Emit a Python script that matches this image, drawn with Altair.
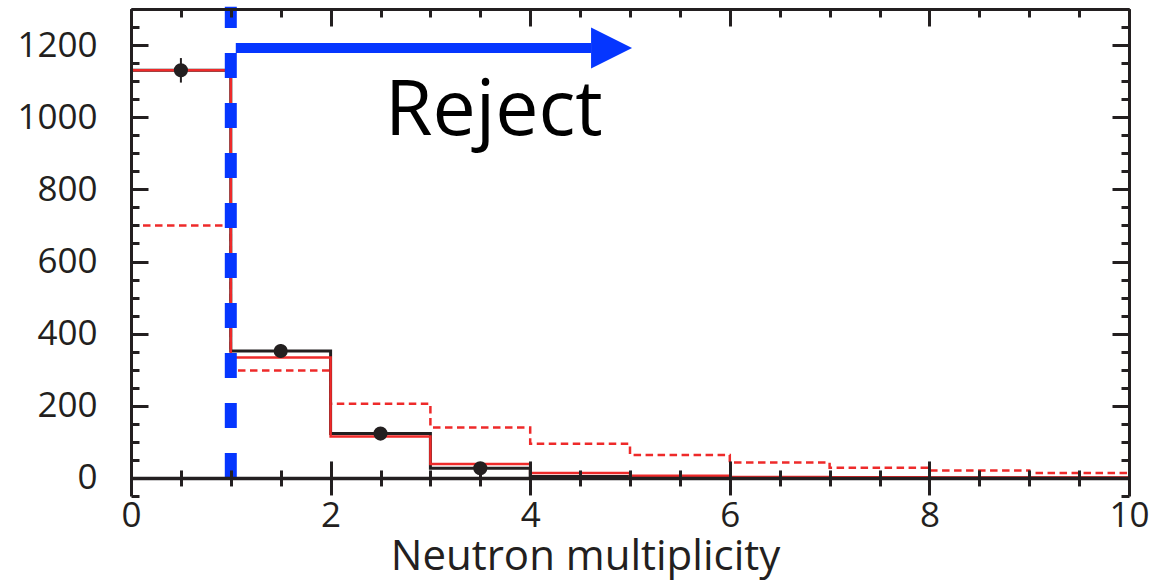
import altair as alt
import pandas as pd

# ---------------- values ----------------
bin_low = [0, 1, 2, 3, 4, 5, 6, 7, 8, 9]
bin_high = [1, 2, 3, 4, 5, 6, 7, 8, 9, 10]
data_counts = [1130, 352, 123, 27, 4, 3, 0, 0, 0, 0]
data_errors = [34, 19, 11, 5, 2, 2, 0, 0, 0, 0]
mc_solid = [1130, 334, 115, 39, 14, 6, 3, 2, 1.5, 1]
mc_dashed = [700, 298, 206, 140, 95, 64, 43, 28, 21, 14]
marker_bins = [0, 1, 2, 3]

cut_x = [1.0]
cut_y = [0, 1306]
arrow_x = [1.05, 4.61]
arrow_y = [1192]
head_x = [4.815]
note_text = ["Reject"]
note_x = [2.545]
note_y = [951]

x_major = [0, 2, 4, 6, 8, 10]
x_minor = [0, 0.5, 1, 1.5, 2, 2.5, 3, 3.5, 4, 4.5, 5, 5.5, 6, 6.5, 7, 7.5, 8, 8.5, 9, 9.5, 10]
y_major = [0, 200, 400, 600, 800, 1000, 1200]
y_minor = [-50, 0, 50, 100, 150, 200, 250, 300, 350, 400, 450, 500, 550, 600, 650,
           700, 750, 800, 850, 900, 950, 1000, 1050, 1100, 1150, 1200, 1250, 1300]
x_title = "Neutron multiplicity"

# ---------------- style ----------------
INK = "#231f20"
RED = "#ee2a2a"
BLUE = "#0536ff"
FONT = "Open Sans"
W, H = 998, 487
Y0_FROM_BOTTOM = H * 50 / 1350.0  # pixel distance of y=0 above bottom edge

xs = alt.Scale(domain=[0, 10], nice=False, zero=False)
ys = alt.Scale(domain=[-50, 1300], nice=False, zero=False)


def ax(**kw):
    base = dict(grid=False, labels=False, ticks=True, domain=False, title=None,
                zindex=2, tickColor=INK, tickWidth=3, labelFlush=False)
    base.update(kw)
    return alt.Axis(**base)


# x axes
ax_x_main = ax(orient="bottom", offset=-Y0_FROM_BOTTOM, values=x_major, tickSize=17,
               domain=True, domainColor=INK, domainWidth=3.5,
               labels=True, labelFont=FONT, labelFontSize=35, labelColor=INK,
               labelPadding=4, labelOverlap=False, format="d",
               title=x_title, titleFont=FONT, titleFontSize=42, titleFontWeight="normal",
               titleColor=INK, titleX=454, titleY=92, titleAlign="center",
               titleBaseline="alphabetic")
ax_x_minor_dn = ax(orient="bottom", offset=-Y0_FROM_BOTTOM, values=x_minor, tickSize=8)
ax_x_major_up = ax(orient="top", offset=-(H - Y0_FROM_BOTTOM), values=x_major, tickSize=17)
ax_x_minor_up = ax(orient="top", offset=-(H - Y0_FROM_BOTTOM), values=x_minor, tickSize=8)
ax_x_top_major = ax(orient="top", offset=-17, values=x_major, tickSize=17)
ax_x_top_minor = ax(orient="top", offset=-8, values=x_minor, tickSize=8)
ax_x_top_frame = ax(orient="top", ticks=False, domain=True, domainColor=INK, domainWidth=3)

# y axes
ax_y_main = ax(orient="left", values=y_major, ticks=False, tickSize=0,
               domain=True, domainColor=INK, domainWidth=3,
               labels=True, labelFont=FONT, labelFontSize=35, labelColor=INK,
               labelPadding=34, labelOverlap=False, format="d")
ax_y_left_major = ax(orient="left", offset=-17, values=y_major, tickSize=17)
ax_y_left_minor = ax(orient="left", offset=-8, values=y_minor, tickSize=8)
ax_y_right_frame = ax(orient="right", ticks=False, domain=True, domainColor=INK, domainWidth=3)
ax_y_right_major = ax(orient="right", offset=-17, values=y_major, tickSize=17)
ax_y_right_minor = ax(orient="right", offset=-8, values=y_minor, tickSize=8)


def step_table(vals):
    return pd.DataFrame({"x": bin_low + [bin_high[-1]], "y": vals + [vals[-1]]})


pts = pd.DataFrame({
    "x": [(bin_low[i] + bin_high[i]) / 2 for i in marker_bins],
    "y": [data_counts[i] for i in marker_bins],
    "lo": [data_counts[i] - data_errors[i] for i in marker_bins],
    "hi": [data_counts[i] + data_errors[i] for i in marker_bins],
})

dashed = alt.Chart(step_table(mc_dashed)).mark_line(
    interpolate="step-after", color=RED, strokeWidth=2.5, strokeDash=[7.5, 4.5]
).encode(x=alt.X("x:Q", scale=xs, axis=ax_x_main),
         y=alt.Y("y:Q", scale=ys, axis=ax_y_main))

black = alt.Chart(step_table(data_counts)).mark_line(
    interpolate="step-after", color=INK, strokeWidth=3
).encode(x=alt.X("x:Q", scale=xs, axis=ax_x_minor_dn),
         y=alt.Y("y:Q", scale=ys, axis=ax_y_left_major))

solid = alt.Chart(step_table(mc_solid)).mark_line(
    interpolate="step-after", color=RED, strokeWidth=2.5
).encode(x=alt.X("x:Q", scale=xs, axis=ax_x_major_up),
         y=alt.Y("y:Q", scale=ys, axis=ax_y_left_minor))

errs = alt.Chart(pts).mark_rule(color=INK, strokeWidth=2).encode(
    x=alt.X("x:Q", scale=xs, axis=ax_x_minor_up),
    y=alt.Y("lo:Q", scale=ys, axis=ax_y_right_frame),
    y2="hi:Q")

points = alt.Chart(pts).mark_circle(color=INK, size=200, opacity=1).encode(
    x=alt.X("x:Q", scale=xs, axis=ax_x_top_major),
    y=alt.Y("y:Q", scale=ys, axis=ax_y_right_major))

cut = alt.Chart(pd.DataFrame({"x": cut_x, "y0": [cut_y[0]], "y1": [cut_y[1]]})).mark_rule(
    color=BLUE, strokeWidth=12, strokeDash=[25, 25], strokeCap="butt"
).encode(x=alt.X("x:Q", scale=xs, axis=ax_x_top_minor),
         y=alt.Y("y0:Q", scale=ys, axis=ax_y_right_minor),
         y2="y1:Q")

shaft = alt.Chart(pd.DataFrame({"x0": [arrow_x[0]], "x1": [arrow_x[1]], "y": arrow_y})).mark_rule(
    color=BLUE, strokeWidth=10, strokeCap="butt"
).encode(x=alt.X("x0:Q", scale=xs, axis=ax_x_top_frame),
         x2="x1:Q",
         y=alt.Y("y:Q", scale=ys, axis=None))

head = alt.Chart(pd.DataFrame({"x": head_x, "y": arrow_y})).mark_point(
    shape="M-1,-1L1,0L-1,1Z", filled=True, size=41 * 41, color=BLUE, opacity=1, strokeWidth=0
).encode(x=alt.X("x:Q", scale=xs, axis=None),
         y=alt.Y("y:Q", scale=ys, axis=None))

note = alt.Chart(pd.DataFrame({"x": note_x, "y": note_y, "t": note_text})).mark_text(
    font=FONT, fontSize=77, align="left", baseline="alphabetic", color="#000000"
).encode(x=alt.X("x:Q", scale=xs, axis=None),
         y=alt.Y("y:Q", scale=ys, axis=None),
         text="t:N")

chart = alt.layer(dashed, black, solid, errs, points, cut, shaft, head, note).resolve_axis(
    x="independent", y="independent"
).properties(
    width=W, height=H,
    autosize=alt.AutoSizeParams(type="none"),
    padding={"left": 131, "top": 9, "right": 40, "bottom": 85},
    background="white",
).configure_view(stroke=None)

chart.save("out.html", embed_options={"renderer": "svg", "actions": False})
